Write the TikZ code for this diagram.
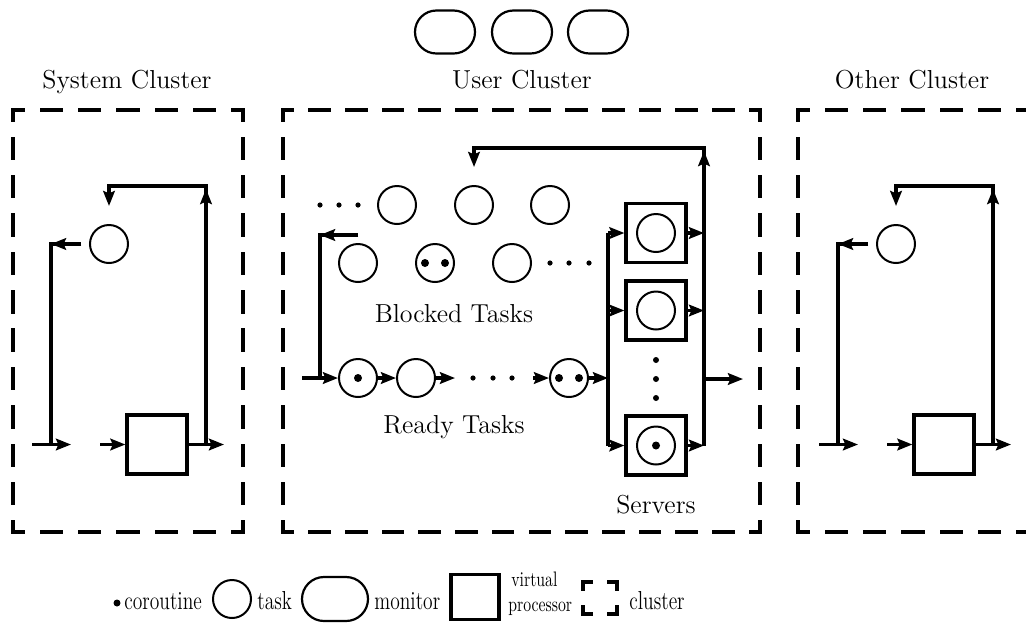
\documentclass[tikz,border=0pt]{standalone}
\usepackage{graphicx}
\usetikzlibrary{arrows.meta}
\newcommand{\lblfont}{\fontsize{13}{15.6}\selectfont}
\newcommand{\smfont}{\fontsize{10.5}{12.6}\selectfont}
\newcommand{\cnd}[1]{\scalebox{0.75}[1]{#1}}
\tikzset{
  wire/.style={line width=1.6pt},
  arr/.style={wire, -{Stealth[length=7.5pt,width=5.8pt,inset=1.2pt]}},
  task/.style={circle, draw, line width=1pt, minimum size=19pt, inner sep=0pt},
  vproc/.style={rectangle, draw, line width=1.6pt, minimum width=30pt, minimum height=29.5pt, inner sep=0pt},
  monitor/.style={rectangle, draw, line width=1.1pt, rounded corners=10.7pt, minimum width=30pt, minimum height=21.5pt, inner sep=0pt},
  cdot/.style={circle, fill, minimum size=4pt, inner sep=0pt},
  sdot/.style={circle, fill, minimum size=2.6pt, inner sep=0pt},
  lbl/.style={font=\lblfont, inner sep=0pt},
  lgl/.style={font=\lblfont, inner sep=0pt, anchor=base west},
  clusterline/.style={line width=1.65pt, line cap=rect},
}
% dashed side with half dashes at both corners: x1 y1 x2 y2 length(px)
\newcommand{\clside}[5]{%
  \pgfmathsetmacro{\cln}{max(1,round(#5/38))}%
  \pgfmathsetmacro{\clp}{0.5*#5/\cln}%
  \pgfmathsetmacro{\cld}{\clp*20/38}%
  \pgfmathsetmacro{\clg}{\clp-\cld}%
  \pgfmathsetmacro{\clh}{\cld/2}%
  \draw[clusterline, dash pattern=on \cld pt off \clg pt, dash phase=\clh pt] (#1,#2) -- (#3,#4);%
}
\newcommand{\minicluster}[1]{%
  \node[task] (#1t) at (109,244) {};
  \node[vproc] (#1p) at (157,444.5) {};
  \coordinate (#1tr) at (206,186);
  \coordinate (#1tl) at (109,186);
  \coordinate (#1td) at (109,206);
  \coordinate (#1j) at (206,444.5);
  \coordinate (#1o) at (224,444.5);
  \coordinate (#1ls) at (81,244);
  \coordinate (#1lc) at (51,244);
  \coordinate (#1lb) at (51,444.5);
  \coordinate (#1ia) at (32,444.5);
  \coordinate (#1ib) at (71,444.5);
  \coordinate (#1pa) at (100,444.5);
  \coordinate (#1ua) at (206,240);
  \coordinate (#1ub) at (206,189);
  \draw[arr] (#1j) -- (#1tr) -- (#1tl) -- (#1td);
  \draw[arr] (#1ua) -- (#1ub);
  \draw[wire] (#1ls) -- (#1lc) -- (#1lb);
  \draw[arr] (#1ls) -- (#1lc);
  \draw[arr] (#1ia) -- (#1ib);
  \draw[arr] (#1pa) -- (#1p.west);
  \draw[arr] (#1p.east) -- (#1o);
}
\begin{document}
\begin{tikzpicture}[x=0.5pt,y=-0.5pt]
\useasboundingbox (0,0) rectangle (1026,622);
\clip (0,0) rectangle (1026,622);

% titles
\node[lbl, anchor=base] (tsys) at (127,88) {System Cluster};
\node[lbl, anchor=base] (tusr) at (522,88) {User Cluster};
\node[lbl, anchor=base] (toth) at (912,88) {Other Cluster};

% monitors
\node[monitor] (m1) at (445,32) {};
\node[monitor] (m2) at (522,32) {};
\node[monitor] (m3) at (598,32) {};

% cluster borders
\clside{13}{110}{243}{110}{230}
\clside{13}{532}{243}{532}{230}
\clside{13}{110}{13}{532}{422}
\clside{243}{110}{243}{532}{422}

\clside{283}{110}{760}{110}{477}
\clside{283}{532}{760}{532}{477}
\clside{283}{110}{283}{532}{422}
\clside{760}{110}{760}{532}{422}

\clside{798}{110}{1028}{110}{230}
\clside{798}{532}{1028}{532}{230}
\clside{798}{110}{798}{532}{422}

% system and other clusters
\minicluster{s}
\begin{scope}[xshift=393.5pt]
\minicluster{o}
\end{scope}

% ---- user cluster ----
% blocked tasks
\node[sdot] (bd1) at (320,205) {};
\node[sdot] (bd2) at (339,205) {};
\node[sdot] (bd3) at (358,205) {};
\node[task] (B1) at (397,205) {};
\node[task] (B2) at (474,205) {};
\node[task] (B3) at (550,205) {};
\node[task] (B4) at (358,263) {};
\node[task] (B5) at (435,263) {};
\node[cdot] (B5a) at (425,263) {};
\node[cdot] (B5b) at (445,263) {};
\node[task] (B6) at (512,263) {};
\node[sdot] (bd4) at (550,263) {};
\node[sdot] (bd5) at (569,263) {};
\node[sdot] (bd6) at (589,263) {};
\node[lbl, anchor=base] (lblb) at (454,322) {Blocked Tasks};

% ready tasks
\node[task] (R1) at (358,378) {};
\node[cdot] (R1a) at (358,378) {};
\node[task] (R2) at (416,378) {};
\node[sdot] (rd1) at (473,378) {};
\node[sdot] (rd2) at (493,378) {};
\node[sdot] (rd3) at (512,378) {};
\node[task] (R3) at (569,378) {};
\node[cdot] (R3a) at (559,378) {};
\node[cdot] (R3b) at (579,378) {};
\node[lbl, anchor=base] (lblr) at (454,433) {Ready Tasks};

% servers
\node[vproc] (V1) at (656,233) {};
\node[task] (V1t) at (656,233) {};
\node[vproc] (V2) at (656,310.5) {};
\node[task] (V2t) at (656,310.5) {};
\node[vproc] (V3) at (656,445.5) {};
\node[task] (V3t) at (656,445.5) {};
\node[cdot] (V3a) at (656,445.5) {};
\node[sdot, minimum size=3pt] (vd1) at (656,360) {};
\node[sdot, minimum size=3pt] (vd2) at (656,379) {};
\node[sdot, minimum size=3pt] (vd3) at (656,398) {};
\node[lbl, anchor=base] (lbls) at (656,513) {Servers};

% coordinates
\coordinate (uin) at (302,378);
\coordinate (ubs) at (358,235);
\coordinate (ubc) at (320,235);
\coordinate (ubb) at (320,378);
\coordinate (ur2) at (455,378);
\coordinate (ur3) at (533,378);
\coordinate (lb1) at (608,233);
\coordinate (lbm) at (608,378);
\coordinate (lb2) at (608,310.5);
\coordinate (lb3) at (608,445.5);
\coordinate (rb1) at (704,233);
\coordinate (rb2) at (704,310.5);
\coordinate (rb3) at (704,445.5);
\coordinate (rbm) at (704,379);
\coordinate (uout) at (743,379);
\coordinate (rtop) at (704,148);
\coordinate (ltop) at (474,148);
\coordinate (ldown) at (474,167);
\coordinate (upa) at (704,200);
\coordinate (upb) at (704,151);

% connectors
\draw[wire] (ubs) -- (ubc) -- (ubb);
\draw[arr] (ubs) -- (ubc);
\draw[arr] (uin) -- (R1.west);
\draw[arr] (R1.east) -- (R2.west);
\draw[arr] (R2.east) -- (ur2);
\draw[arr] (ur3) -- (R3.west);
\draw[arr] (R3.east) -- (lbm);
\draw[wire] (lb1) -- (lb3);
\draw[arr] (lb1) -- (V1.west);
\draw[arr] (lb2) -- (V2.west);
\draw[arr] (lb3) -- (V3.west);
\draw[arr] (V1.east) -- (rb1);
\draw[arr] (V2.east) -- (rb2);
\draw[arr] (V3.east) -- (rb3);
\draw[arr] (rb3) -- (rtop) -- (ltop) -- (ldown);
\draw[arr] (upa) -- (upb);
\draw[arr] (rbm) -- (uout);

% ---- legend ----
\node[cdot, minimum size=3.5pt] (lgdot) at (117,603) {};
\node[lgl] (lgcoro) at (124,609) {\cnd{coroutine}};
\node[task] (lgtask) at (232,599) {};
\node[lgl] (lgtaskt) at (257,609) {\cnd{task}};
\node[monitor, minimum width=33pt, minimum height=22pt, rounded corners=11pt] (lgmon) at (335,599) {};
\node[lgl] (lgmont) at (374,609) {\cnd{monitor}};
\node[vproc, minimum width=24pt, minimum height=22.5pt] (lgvp) at (475,597) {};
\node[lgl, font=\smfont] (lgvir) at (511,586) {\cnd{virtual}};
\node[lgl, font=\smfont] (lgpro) at (508,611) {\cnd{processor}};
\draw[clusterline] (583,589) -- (583,582) -- (591,582);
\draw[clusterline] (609,582) -- (617,582) -- (617,589);
\draw[clusterline] (583,607) -- (583,614) -- (591,614);
\draw[clusterline] (609,614) -- (617,614) -- (617,607);
\node[lgl] (lgclu) at (629,609) {\cnd{cluster}};
\end{tikzpicture}
\end{document}
